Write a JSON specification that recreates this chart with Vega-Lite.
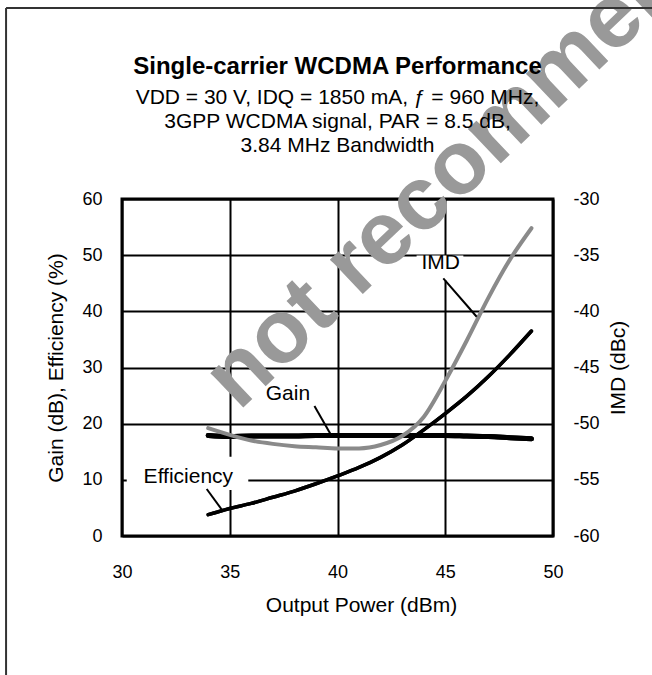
{
  "$schema": "https://vega.github.io/schema/vega-lite/v6.json",
  "width": 431,
  "height": 337,
  "autosize": {"type": "none"},
  "padding": {"left": 122, "top": 199, "right": 99, "bottom": 139},
  "background": "white",
  "config": {
    "font": "Liberation Sans",
    "view": {"stroke": "black", "strokeWidth": 3},
    "axis": {
      "labelFont": "Liberation Sans", "labelFontSize": 18, "labelColor": "black", "labelFlush": false, "labelOverlap": false,
      "titleFont": "Liberation Sans", "titleFontSize": 21, "titleFontWeight": "normal", "titleColor": "black",
      "ticks": false, "tickSize": 0, "domain": false,
      "gridColor": "black", "gridWidth": 2, "gridOpacity": 1
    }
  },
  "title": {
    "text": "Single-carrier WCDMA Performance",
    "subtitle": ["VDD = 30 V, IDQ = 1850 mA, ƒ = 960  MHz,", "3GPP WCDMA signal,  PAR = 8.5 dB,", "3.84 MHz Bandwidth"],
    "anchor": "middle", "frame": "group",
    "font": "Liberation Sans", "fontSize": 24, "fontWeight": "bold", "color": "black",
    "subtitleFont": "Liberation Sans", "subtitleFontSize": 21, "subtitleColor": "black",
    "subtitleLineHeight": 24, "subtitlePadding": 8, "offset": -333
  },
  "datasets": {
    "perf": [
      {"p": 34, "series": "Gain", "value": 17.9}, {"p": 35, "series": "Gain", "value": 17.7},
      {"p": 36, "series": "Gain", "value": 17.8}, {"p": 37, "series": "Gain", "value": 17.8},
      {"p": 38, "series": "Gain", "value": 17.8}, {"p": 39, "series": "Gain", "value": 17.9},
      {"p": 40, "series": "Gain", "value": 17.9}, {"p": 41, "series": "Gain", "value": 17.9},
      {"p": 42, "series": "Gain", "value": 17.9}, {"p": 43, "series": "Gain", "value": 17.9},
      {"p": 44, "series": "Gain", "value": 17.9}, {"p": 45, "series": "Gain", "value": 17.9},
      {"p": 46, "series": "Gain", "value": 17.8}, {"p": 47, "series": "Gain", "value": 17.7},
      {"p": 48, "series": "Gain", "value": 17.5}, {"p": 49, "series": "Gain", "value": 17.3},
      {"p": 34, "series": "Efficiency", "value": 3.8}, {"p": 35, "series": "Efficiency", "value": 4.9},
      {"p": 36, "series": "Efficiency", "value": 5.8}, {"p": 37, "series": "Efficiency", "value": 6.9},
      {"p": 38, "series": "Efficiency", "value": 8.0}, {"p": 39, "series": "Efficiency", "value": 9.3},
      {"p": 40, "series": "Efficiency", "value": 10.7}, {"p": 41, "series": "Efficiency", "value": 12.2},
      {"p": 42, "series": "Efficiency", "value": 14.0}, {"p": 43, "series": "Efficiency", "value": 16.2},
      {"p": 44, "series": "Efficiency", "value": 18.9}, {"p": 45, "series": "Efficiency", "value": 21.8},
      {"p": 46, "series": "Efficiency", "value": 24.9}, {"p": 47, "series": "Efficiency", "value": 28.4},
      {"p": 48, "series": "Efficiency", "value": 32.3}, {"p": 49, "series": "Efficiency", "value": 36.5}
    ],
    "imd": [
      {"p": 34, "imd": -50.4}, {"p": 35, "imd": -51.0}, {"p": 36, "imd": -51.5}, {"p": 37, "imd": -51.8},
      {"p": 38, "imd": -52.0}, {"p": 39, "imd": -52.1}, {"p": 40, "imd": -52.2}, {"p": 41, "imd": -52.2},
      {"p": 42, "imd": -51.9}, {"p": 43, "imd": -51.1}, {"p": 44, "imd": -49.4}, {"p": 45, "imd": -46.2},
      {"p": 46, "imd": -42.6}, {"p": 47, "imd": -38.8}, {"p": 48, "imd": -35.4}, {"p": 49, "imd": -32.6}
    ],
    "labels": [
      {"label": "Gain", "x": 37.70, "y": 25.3},
      {"label": "Efficiency", "x": 33.08, "y": 10.59},
      {"label": "IMD", "x": 44.79, "y": 48.69}
    ],
    "leaders": [
      {"label": "Gain", "x": 38.93, "y": 23.14, "x2": 39.70, "y2": 17.98},
      {"label": "Efficiency", "x": 33.93, "y": 8.37, "x2": 34.70, "y2": 4.33},
      {"label": "IMD", "x": 44.91, "y": 45.88, "x2": 46.46, "y2": 39.04}
    ],
    "boxes": [
      {"label": "Efficiency", "x": 30.22, "x2": 35.86, "y": 8.19, "y2": 14.13},
      {"label": "IMD", "x": 43.67, "x2": 45.84, "y": 45.48, "y2": 49.93}
    ]
  },
  "layer": [
    {
      "data": {"name": "perf"},
      "mark": {"type": "line", "color": "black", "interpolate": "monotone", "strokeCap": "round"},
      "encoding": {
        "x": {
          "field": "p", "type": "quantitative",
          "scale": {"domain": [30, 50], "nice": false},
          "axis": {"orient": "bottom", "values": [30, 35, 40, 45, 50], "grid": true, "labelPadding": 27, "title": "Output Power (dBm)", "titlePadding": 13, "titleX": 239}
        },
        "y": {
          "field": "value", "type": "quantitative",
          "scale": {"domain": [0, 60], "nice": false},
          "axis": {"orient": "left", "values": [0, 10, 20, 30, 40, 50, 60], "grid": true, "labelPadding": 20, "title": "Gain (dB),  Efficiency (%)", "titlePadding": 15}
        },
        "strokeWidth": {"field": "series", "type": "nominal", "scale": {"domain": ["Efficiency", "Gain"], "range": [3.5, 5]}, "legend": null}
      }
    },
    {
      "data": {"values": [{}]},
      "mark": {"type": "text", "text": "not recommended", "angle": -43.5, "fontSize": 90, "fontWeight": "bold", "color": "#999999", "align": "center", "baseline": "middle", "font": "Liberation Sans"},
      "encoding": {
        "x": {"datum": 47.68, "type": "quantitative", "axis": null},
        "y": {"datum": 73.4, "type": "quantitative", "scale": {"domain": [0, 60], "nice": false}, "axis": null}
      }
    },
    {
      "data": {"values": [{}]},
      "mark": {"type": "rule", "stroke": "#333333", "strokeWidth": 2},
      "encoding": {
        "x": {"datum": 24.62, "type": "quantitative", "axis": null},
        "x2": {"datum": 56},
        "y": {"datum": 94.0, "type": "quantitative", "scale": {"domain": [0, 60], "nice": false}, "axis": null},
        "y2": {"datum": 94.0}
      }
    },
    {
      "data": {"values": [{}]},
      "mark": {"type": "rule", "stroke": "#333333", "strokeWidth": 2},
      "encoding": {
        "x": {"datum": 24.62, "type": "quantitative", "axis": null},
        "y": {"datum": 94.0, "type": "quantitative", "scale": {"domain": [0, 60], "nice": false}, "axis": null},
        "y2": {"datum": -30}
      }
    },
    {
      "data": {"name": "boxes"},
      "mark": {"type": "rect", "fill": "white"},
      "encoding": {
        "x": {"field": "x", "type": "quantitative", "axis": null},
        "x2": {"field": "x2"},
        "y": {"field": "y", "type": "quantitative", "scale": {"domain": [0, 60], "nice": false}, "axis": null},
        "y2": {"field": "y2"}
      }
    },
    {
      "data": {"name": "perf"},
      "mark": {"type": "line", "color": "black", "interpolate": "monotone", "strokeCap": "round"},
      "encoding": {
        "x": {"field": "p", "type": "quantitative", "axis": null},
        "y": {"field": "value", "type": "quantitative", "scale": {"domain": [0, 60], "nice": false}, "axis": null},
        "strokeWidth": {"field": "series", "type": "nominal", "scale": {"domain": ["Efficiency", "Gain"], "range": [3.5, 5]}, "legend": null}
      }
    },
    {
      "data": {"name": "imd"},
      "mark": {"type": "line", "color": "#8a8a8a", "strokeWidth": 4, "interpolate": "monotone", "strokeCap": "round"},
      "encoding": {
        "x": {"field": "p", "type": "quantitative", "axis": null},
        "y": {
          "field": "imd", "type": "quantitative",
          "scale": {"domain": [-60, -30], "nice": false},
          "axis": {"orient": "right", "values": [-60, -55, -50, -45, -40, -35, -30], "grid": false, "labelPadding": 20, "labelExpr": "replace(datum.label, '−', '-')", "title": "IMD (dBc)", "titleAngle": -90, "titleBaseline": "top", "titlePadding": 8}
        }
      }
    },
    {
      "data": {"name": "leaders"},
      "mark": {"type": "rule", "stroke": "black", "strokeWidth": 2},
      "encoding": {
        "x": {"field": "x", "type": "quantitative", "axis": null},
        "x2": {"field": "x2"},
        "y": {"field": "y", "type": "quantitative", "scale": {"domain": [0, 60], "nice": false}, "axis": null},
        "y2": {"field": "y2"}
      }
    },
    {
      "data": {"name": "labels"},
      "mark": {"type": "text", "fontSize": 21, "color": "black", "align": "center", "baseline": "middle", "font": "Liberation Sans"},
      "encoding": {
        "x": {"field": "x", "type": "quantitative", "axis": null},
        "y": {"field": "y", "type": "quantitative", "scale": {"domain": [0, 60], "nice": false}, "axis": null},
        "text": {"field": "label"}
      }
    }
  ],
  "resolve": {"scale": {"y": "independent"}, "axis": {"x": "independent"}}
}
